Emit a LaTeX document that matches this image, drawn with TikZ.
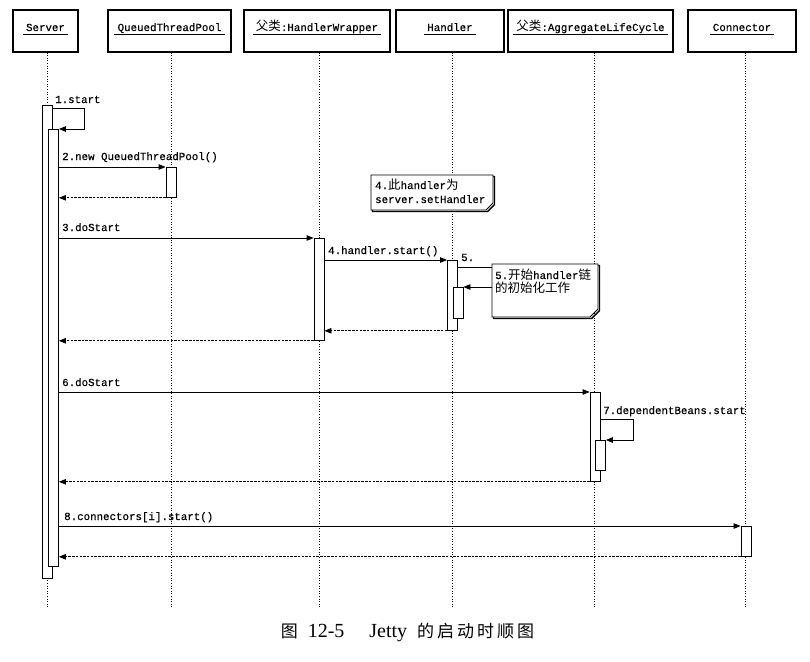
\documentclass[tikz,border=0pt]{standalone}
\usepackage{fontspec}
\setmainfont{Liberation Mono}[FakeBold=0.35]
\newfontfamily\cjk{Noto Sans CJK SC}
\newfontfamily\capserif{Liberation Serif}
\usetikzlibrary{arrows.meta}
\newcommand\zhtxt[1]{{\cjk\fontsize{12.5}{13}\selectfont #1}}
\begin{document}
\begin{tikzpicture}[x=1pt,y=-1pt,
  headbox/.style={draw, line width=1.2pt, minimum height=42pt, inner sep=0pt},
  headtext/.style={anchor=base, inner xsep=3pt, inner ysep=0pt, font=\fontsize{10.8}{13}\selectfont},
  life/.style={line width=0.9pt, dash pattern=on 1pt off 1.6pt},
  bar/.style={draw, fill=white, line width=0.8pt, minimum width=10pt, inner sep=0pt, anchor=north},
  msg/.style={line width=0.8pt, -{Triangle[length=7pt,width=5.5pt]}},
  ret/.style={line width=0.8pt, dash pattern=on 2.5pt off 1.2pt, -{Triangle[length=7pt,width=5.5pt]}},
  lab/.style={anchor=base west, inner sep=0pt, font=\fontsize{10.8}{13}\selectfont},
  note/.style={draw, fill=white, line width=0.9pt},
  noteshadow/.style={draw, line width=1.4pt},
]
\useasboundingbox (0,0) rectangle (810,661);
\fill[white] (0,0) rectangle (810,661);

% header boxes
\node[headbox, minimum width=65pt]  (hS) at (45.5,31) {};
\node[headbox, minimum width=123pt] (hQ) at (169.5,31) {};
\node[headbox, minimum width=146pt] (hW) at (317,31) {};
\node[headbox, minimum width=108pt] (hD) at (450,31) {};
\node[headbox, minimum width=165pt] (hA) at (590.5,31) {};
\node[headbox, minimum width=108pt] (hC) at (742,31) {};

\node[headtext] (tS) at (45.5,31) {Server};
\node[headtext] (tQ) at (169.5,31) {QueuedThreadPool};
\node[headtext] (tW) at (317,31) {\zhtxt{父类}:HandlerWrapper};
\node[headtext] (tD) at (450,31) {Handler};
\node[headtext] (tA) at (590.5,31) {\zhtxt{父类}:AggregateLifeCycle};
\node[headtext] (tC) at (742,31) {Connector};
\foreach \t in {tS,tQ,tW,tD,tA,tC}
  \draw[line width=0.8pt] ([yshift=-3.5pt]\t.base west) -- ([yshift=-3.5pt]\t.base east);

% lifelines
\coordinate (eS) at (47,608);
\coordinate (eQ) at (171,608);
\coordinate (eW) at (319,608);
\coordinate (eD) at (452,608);
\coordinate (eA) at (594,608);
\coordinate (eC) at (745,608);
\foreach \h/\e in {hS/eS,hQ/eQ,hW/eW,hD/eD,hA/eA,hC/eC}
  \draw[life] (\e |- \h.south) -- (\e);

% activation bars
\node[bar, minimum height=473pt] (bS)  at (47,105) {};
\node[bar, minimum height=437pt] (bS2) at (53.5,129) {};
\node[bar, minimum height=30pt]  (bQ)  at (171,167) {};
\node[bar, minimum height=102pt] (bH)  at (319,238) {};
\node[bar, minimum height=70pt]  (bD)  at (452.5,260) {};
\node[bar, minimum height=31pt]  (bD2) at (458,287) {};
\node[bar, minimum height=89pt]  (bA)  at (595,392) {};
\node[bar, minimum height=30pt]  (bA2) at (600.5,440) {};
\node[bar, minimum height=30pt]  (bC)  at (746,526) {};

% messages
\coordinate (c1) at (84,108);
\draw[msg] (bS.east |- c1) -- (c1) |- (bS2.north east);
\draw[msg] (bS2.east |- bQ.north) -- (bQ.north west);
\draw[ret] (bQ.south west) -- (bS2.east |- bQ.south);
\draw[msg] (bS2.east |- bH.north) -- (bH.north west);
\draw[msg] (bH.east |- bD.north) -- (bD.north west);
\draw[ret] (bD.south west) -- (bH.east |- bD.south);
\draw[ret] (bH.south west) -- (bS2.east |- bH.south);
\coordinate (c5) at (492,267);
\draw[msg] (bD.east |- c5) -- (c5) |- (bD2.north east);
\draw[msg] (bS2.east |- bA.north) -- (bA.north west);
\coordinate (c7) at (633,419);
\draw[msg] (bA.east |- c7) -- (c7) |- (bA2.north east);
\draw[ret] (bA.south west) -- (bS2.east |- bA.south);
\draw[msg] (bS2.east |- bC.north) -- (bC.north west);
\draw[ret] (bC.south west) -- (bS2.east |- bC.south);

% notes
\draw[noteshadow, shift={(1.5,1.5)}] (371,175) -- (493,175) -- (493,203) -- (486,210) -- (371,210) -- cycle;
\draw[note] (371,175) -- (493,175) -- (493,203) -- (486,210) -- (371,210) -- cycle;
\draw[noteshadow, shift={(1.5,1.5)}] (492,264) -- (598,264) -- (598,309) -- (590,317) -- (492,317) -- cycle;
\draw[note] (492,264) -- (598,264) -- (598,309) -- (590,317) -- (492,317) -- cycle;
\node[lab] (n4a) at (375,189) {4.\zhtxt{此}handler\zhtxt{为}};
\node[lab] (n4b) at (375,203) {server.setHandler};
\node[lab] (n5a) at (495,279) {5.\zhtxt{开始}handler\zhtxt{链}};
\node[lab] (n5b) at (495,292) {\zhtxt{的初始化工作}};

% labels
\node[lab] (l1) at (55,103) {1.start};
\node[lab] (l2) at (62,160) {2.new QueuedThreadPool()};
\node[lab] (l3) at (62,231) {3.doStart};
\node[lab] (l4) at (328,254) {4.handler.start()};
\node[lab] (l5) at (461,261) {5.};
\node[lab] (l6) at (62,386) {6.doStart};
\node[lab] (l7) at (603,414) {7.dependentBeans.start};
\node[lab] (l8) at (64,520) {8.connectors[i].start()};

% caption
\node[anchor=base, inner sep=0pt] (cap) at (407.5,637)
  {{\cjk\fontsize{17}{20}\selectfont 图}\hspace{10pt}{\capserif\fontsize{20}{22}\selectfont 12-5}\hspace{25pt}{\capserif\fontsize{20}{22}\selectfont Jetty}\hspace{10pt}{\cjk\fontsize{17}{20}\selectfont 的\hspace{3pt}启\hspace{3pt}动\hspace{3pt}时\hspace{3pt}顺\hspace{3pt}图}};
\end{tikzpicture}
\end{document}
